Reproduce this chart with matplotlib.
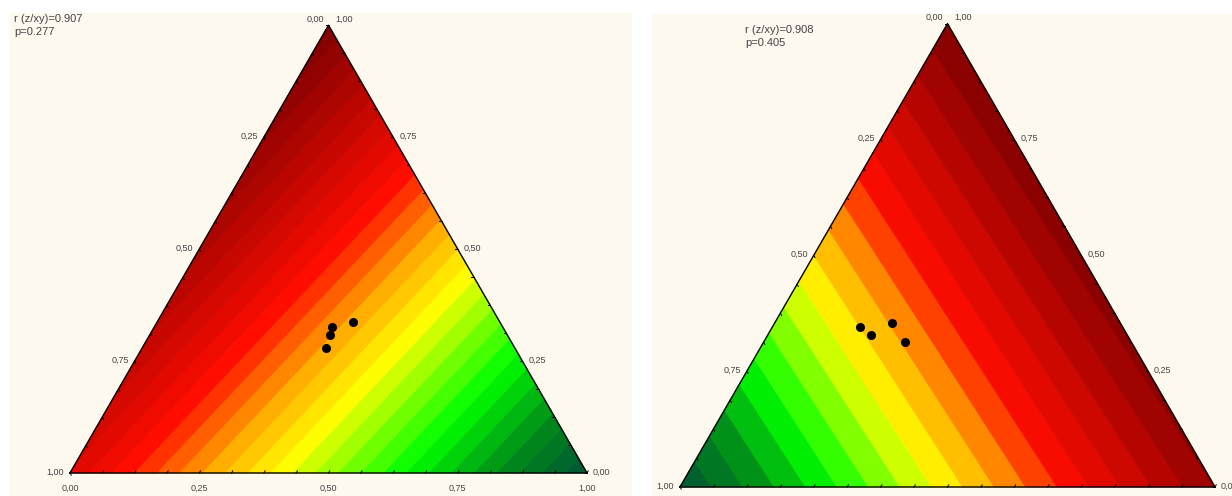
import numpy as np
import matplotlib
matplotlib.use("Agg")
import matplotlib.pyplot as plt
from matplotlib.tri import Triangulation
from matplotlib.colors import LinearSegmentedColormap, Normalize

# ---------------- data ----------------
stats_left = ["r (z/xy)=0.907", "p=0.277"]
stats_right = ["r (z/xy)=0.908", "p=0.405"]
# fitted surface (position on the colour scale) at the corners [A (bottom right), B (top), C (bottom left)]
surf_left = [0.0, 1.0, 0.76]
surf_right = [0.946, 1.0, 0.0]
n_levels_left = 30
n_levels_right = 18
# observed points, ternary components a (bottom axis) and b (right axis)
left_a = [0.343, 0.349, 0.356, 0.378]
left_b = [0.326, 0.308, 0.279, 0.337]
right_a = [0.163, 0.193, 0.219, 0.265]
right_b = [0.346, 0.327, 0.353, 0.312]
tick_values = [0.0, 0.25, 0.50, 0.75, 1.0]
tick_labels = ["0,00", "0,25", "0,50", "0,75", "1,00"]
minor_step = 0.0625

# ---------------- style ----------------
W, H = 1232, 496
CREAM = "#fdf9ee"
TXT = "#444444"
plt.rcParams["font.family"] = ["Liberation Sans", "DejaVu Sans"]

cmap = LinearSegmentedColormap.from_list(
    "gyr",
    [(0.00, (0.00, 0.33, 0.20)),
     (0.13, (0.00, 0.55, 0.10)),
     (0.27, (0.00, 1.00, 0.00)),
     (0.45, (1.00, 1.00, 0.00)),
     (0.56, (1.00, 0.65, 0.00)),
     (0.68, (1.00, 0.05, 0.00)),
     (1.00, (0.50, 0.00, 0.00))])

h = np.sqrt(3) / 2

fig = plt.figure(figsize=(W / 100, H / 100), dpi=100)
fig.patch.set_facecolor("white")


def panel(rect, origin, side, surf, nlev, pa, pb, stats, stats_xy):
    x0, y0, x1, y1 = rect
    ax = fig.add_axes([x0 / W, 1 - y1 / H, (x1 - x0) / W, (y1 - y0) / H])
    ax.set_facecolor(CREAM)
    ax.set_xticks([])
    ax.set_yticks([])
    for s in ax.spines.values():
        s.set_visible(False)
    ox, oy = origin
    ax.set_xlim((x0 - ox) / side, (x1 - ox) / side)
    ax.set_ylim((oy - y1) / side, (oy - y0) / side)

    # triangle corners: A (1,0), B (0.5,h), C (0,0)
    tx = [1.0, 0.5, 0.0]
    ty = [0.0, h, 0.0]
    tri = Triangulation(tx, ty, [[0, 1, 2]])
    levels = np.linspace(0, 1, nlev + 1)
    cs = ax.tricontourf(tri, surf, levels=levels, cmap=cmap,
                        norm=Normalize(0, 1), antialiased=True)
    cs.set_edgecolor("face")
    cs.set_linewidth(0.6)
    ax.plot([0, 1, 0.5, 0], [0, 0, h, 0], color="black", lw=1.0,
            solid_joinstyle="miter", zorder=4)

    # minor ticks (inward)
    tl = 2.5 / side
    for v in np.arange(0, 1.0001, minor_step):
        ax.plot([v, v + tl * 0.5], [0, tl * h], color="black", lw=0.7, zorder=4)
        xr, yr = 1 - v / 2, v * h
        ax.plot([xr, xr - tl], [yr, yr], color="black", lw=0.7, zorder=4)
        xl, yl = (1 - v) / 2, (1 - v) * h
        ax.plot([xl, xl + tl * 0.5], [yl, yl - tl * h], color="black", lw=0.7, zorder=4)

    kw = dict(textcoords="offset pixels", fontsize=6.5, color=TXT)
    for v, lab in zip(tick_values, tick_labels):
        ax.annotate(lab, (v, 0), xytext=(0, -15), ha="center", va="center", **kw)
        xr, yr = 1 - v / 2, v * h
        off = (7, 6) if v == 1.0 else (6, 1)
        ax.annotate(lab, (xr, yr), xytext=off, ha="left", va="center", **kw)
        xl, yl = (1 - v) / 2, (1 - v) * h
        off = (-4, 6) if v == 0.0 else (-6, 1)
        ax.annotate(lab, (xl, yl), xytext=off, ha="right", va="center", **kw)

    pa = np.asarray(pa)
    pb = np.asarray(pb)
    ax.plot(pa + pb / 2, pb * h, "o", color="black", ms=5.5, zorder=5)

    sx, sy = stats_xy
    for i, s in enumerate(stats):
        fig.text(sx / W, 1 - (sy + 13 * i) / H, s, fontsize=8, color=TXT,
                 ha="left", va="center")


panel((10, 13, 632, 496), (70, 473), 517, surf_left, n_levels_left,
      left_a, left_b, stats_left, (14, 19))
panel((652, 14, 1232, 496), (680, 487), 535, surf_right, n_levels_right,
      right_a, right_b, stats_right, (745, 30))

fig.savefig("out.png", dpi=100, facecolor="white")
